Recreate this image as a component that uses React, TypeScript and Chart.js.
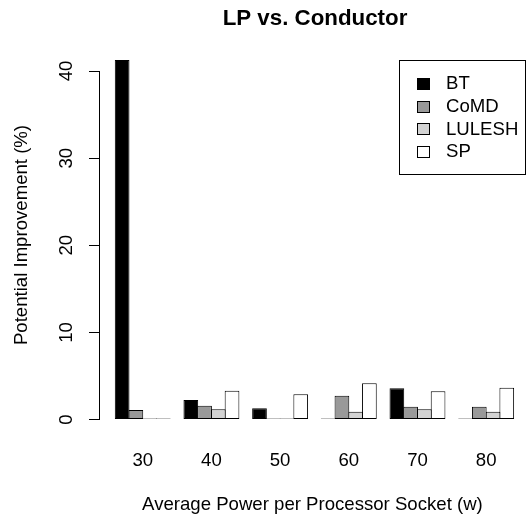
import React, { useEffect, useRef } from "react";
import { Chart, registerables } from "chart.js";

Chart.register(...registerables);

// ---- data ----
const categories = [30, 40, 50, 60, 70, 80];
const seriesNames = ["BT", "CoMD", "LULESH", "SP"];
const btValues = [41.27, 2.24, 1.29, 0, 3.58, 0];
const comdValues = [1.09, 1.58, 0, 2.73, 1.47, 1.47];
const luleshValues = [0, 1.17, 0, 0.9, 1.17, 0.9];
const spValues = [0, 3.31, 2.89, 4.16, 3.24, 3.65];
const seriesColors = ["#000000", "#999999", "#d3d3d3", "#ffffff"];
const yTickValues = [0, 10, 20, 30, 40];
const chartTitle = "LP vs. Conductor";
const xTitle = "Average Power per Processor Socket (w)";
const yTitle = "Potential Improvement (%)";

const FONT = '"Liberation Sans", Arial, Helvetica, sans-serif';
const FS = 18.6;

const overlayPlugin = {
  id: "rOverlay",
  afterDraw(chart: any) {
    const ctx = chart.ctx as CanvasRenderingContext2D;
    ctx.save();
    ctx.fillStyle = "#000";
    // main title
    ctx.font = `bold ${FS * 1.2}px ${FONT}`;
    ctx.textAlign = "center";
    ctx.textBaseline = "alphabetic";
    ctx.fillText(chartTitle, 315, 24.5);
    // y-axis title
    ctx.save();
    ctx.font = `${FS}px ${FONT}`;
    ctx.translate(27, 235);
    ctx.rotate(-Math.PI / 2);
    ctx.fillText(yTitle, 0, 0);
    ctx.restore();
    // legend
    const bx = 399.5, by = 60.5, bw = 126, bh = 114;
    ctx.strokeStyle = "#000";
    ctx.lineWidth = 1;
    ctx.strokeRect(bx, by, bw, bh);
    ctx.font = `${FS}px ${FONT}`;
    ctx.textAlign = "left";
    ctx.textBaseline = "middle";
    chart.data.datasets.forEach((ds: any, i: number) => {
      const cy = 84 + i * 22.7;
      ctx.fillStyle = ds.backgroundColor;
      ctx.fillRect(417, Math.round(cy) - 6, 13, 12);
      ctx.strokeStyle = "#000";
      ctx.strokeRect(417.5, Math.round(cy) - 5.5, 12, 11);
      ctx.fillStyle = "#000";
      ctx.fillText(ds.label, 446, cy);
    });
    ctx.restore();
  },
};

export default function App() {
  const ref = useRef<HTMLCanvasElement | null>(null);
  useEffect(() => {
    if (!ref.current) return;
    const valueSets = [btValues, comdValues, luleshValues, spValues];
    const chart = new Chart(ref.current, {
      type: "bar",
      data: {
        datasets: seriesNames.map((name, i) => ({
          label: name,
          data: categories.map((c, j) => ({ x: c, y: valueSets[i][j] })),
          backgroundColor: seriesColors[i],
          borderColor: "#000000",
          borderWidth: 1,
          borderSkipped: false,
          minBarLength: 1,
          categoryPercentage: 0.8,
          barPercentage: 1.07,
          clip: false,
        })),
      },
      options: {
        responsive: false,
        animation: false,
        layout: { padding: { top: 71, left: 0, right: 0, bottom: 0 } },
        plugins: {
          legend: { display: false },
          title: { display: false },
          tooltip: { enabled: false },
        },
        scales: {
          x: {
            type: "linear",
            offset: false,
            min: 23.632,
            max: 85.787,
            afterBuildTicks: (scale: any) => {
              scale.ticks = categories.map((v) => ({ value: v }));
            },
            afterFit: (scale: any) => {
              scale.height = 97.5;
            },
            grid: { display: false, drawTicks: false },
            border: { display: false },
            ticks: {
              color: "#000",
              font: { family: FONT, size: FS },
              padding: 30.5,
              autoSkip: false,
              maxRotation: 0,
              minRotation: 0,
              callback: (v: any) => String(v),
            },
            title: {
              display: true,
              text: xTitle,
              color: "#000",
              font: { family: FONT, size: FS },
              padding: { top: 0, bottom: 1 },
            },
          },
          y: {
            type: "linear",
            min: 0,
            max: 40,
            afterBuildTicks: (scale: any) => {
              scale.ticks = yTickValues.map((v) => ({ value: v }));
            },
            afterFit: (scale: any) => {
              scale.width = 99;
            },
            grid: {
              drawOnChartArea: false,
              drawTicks: true,
              tickLength: 10,
              tickColor: "#000",
              tickWidth: 1,
            },
            border: { display: true, color: "#000", width: 1 },
            ticks: {
              color: "#000",
              font: { family: FONT, size: FS },
              minRotation: 90,
              maxRotation: 90,
              crossAlign: "center",
              padding: 11.7,
              callback: (v: any) => String(v),
            },
          },
        },
      },
      plugins: [overlayPlugin],
    } as any);
    return () => chart.destroy();
  }, []);
  return (
    <div style={{ position: "absolute", left: 0, top: 0, width: 527, height: 517, background: "#fff" }}>
      <canvas ref={ref} width={527} height={517} style={{ width: 527, height: 517, display: "block" }} />
    </div>
  );
}
